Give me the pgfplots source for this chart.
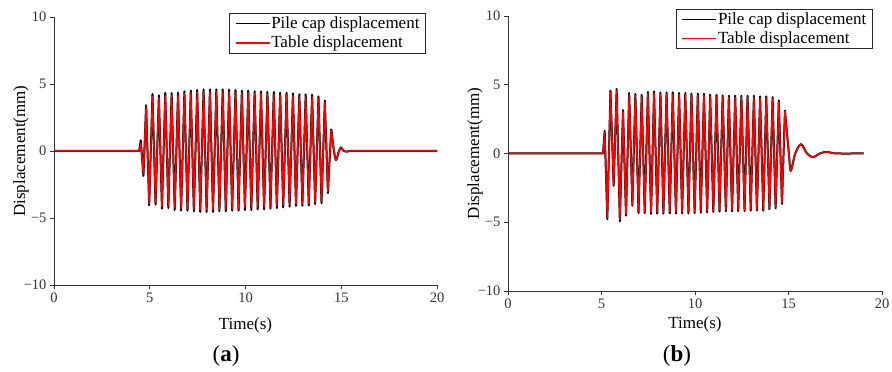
\documentclass[border=0pt]{standalone}
\usepackage{fontspec}
\setmainfont{Liberation Serif}
\usepackage{pgfplots}
\pgfplotsset{compat=1.18}
\pgfplotsset{
  dispaxis/.style={
    scale only axis,
    xmin=0,xmax=20,ymin=-10,ymax=10,
    xtick={0,5,10,15,20},
    ytick={-10,-5,0,5,10},
    yticklabels={−10,−5,0,5,10},
    axis lines=left,
    axis line style={-, black!80, line width=0.8pt},
    tick align=outside,
    major tick length=4pt,
    tick style={black!80, line width=0.8pt},
    ticklabel style={font=\fontsize{14.5}{16}\selectfont, text=black!80},
    /pgf/number format/assume math mode=true,
    xlabel={Time(s)},
    ylabel={Displacement(mm)},
    label style={font=\fontsize{17}{19}\selectfont},
    legend cell align=left,
    legend style={draw=black!85, line width=0.8pt, font=\fontsize{17}{19}\selectfont,
      inner xsep=5pt, inner ysep=2.5pt, row sep=4pt,
      nodes={inner sep=1pt}},
    legend image code/.code={\draw[##1] (0pt,0pt) -- (34pt,0pt);},
  },
  blk/.style={draw=black, line width=2.0pt, line join=round},
  rd/.style={draw=red, line width=1.5pt, line join=round},
}
\begin{document}
\begin{tikzpicture}
\useasboundingbox (0pt,0pt) rectangle (892pt,372pt);
% ---------------- panel (a)
\begin{axis}[dispaxis, at={(54pt,87pt)}, anchor=south west, width=383pt, height=268pt,
  xlabel style={at={(axis description cs:0.5,-0.149)}, anchor=center},
  ylabel style={at={(axis description cs:-0.086,0.5)}, anchor=center},
  legend style={at={(0.971,1.015)}, anchor=north east}]
\addlegendimage{draw=black, line width=1.4pt}
\addlegendentry{Pile cap displacement}
\addlegendimage{draw=red, line width=1.4pt}
\addlegendentry{Table displacement}
\addplot[blk, forget plot] table {
0 0
2 0
4 0
4.3 0
4.45 0
4.53 0.80
4.67 -1.86
4.81 3.42
4.97 -4.05
5.143 4.25
5.303 -4.00
5.477 4.16
5.637 -4.30
5.81 4.33
5.97 -4.25
6.143 4.33
6.303 -4.40
6.477 4.35
6.637 -4.45
6.81 4.45
6.97 -4.45
7.143 4.50
7.303 -4.50
7.477 4.55
7.637 -4.55
7.81 4.60
7.97 -4.55
8.143 4.60
8.303 -4.55
8.477 4.60
8.637 -4.50
8.81 4.60
8.97 -4.50
9.143 4.58
9.303 -4.45
9.477 4.55
9.637 -4.45
9.81 4.50
9.97 -4.40
10.143 4.50
10.303 -4.40
10.477 4.45
10.637 -4.35
10.81 4.45
10.97 -4.35
11.143 4.40
11.303 -4.30
11.477 4.40
11.637 -4.25
11.81 4.35
11.97 -4.20
12.143 4.35
12.303 -4.15
12.477 4.30
12.637 -4.10
12.81 4.23
12.97 -4.08
13.143 4.23
13.303 -4.06
13.477 4.20
13.637 -3.96
13.81 4.08
13.97 -3.90
14.143 3.76
14.303 -3.14
14.477 1.65
};
\addplot[blk, smooth, forget plot] table {
14.477 1.65
14.62 0
14.73 -0.67
14.88 0
14.99 0.27
15.12 0
15.27 -0.05
15.45 0
15.8 0
16.3 0
17 0
18 0
19 0
20 0
};
\addplot[rd, forget plot] table {
0 0
2 0
4 0
4.3 0
4.45 0
4.53 0.55
4.67 -1.70
4.81 3.30
4.97 -3.90
5.143 4.08
5.303 -3.85
5.477 4.00
5.637 -4.13
5.81 4.16
5.97 -4.08
6.143 4.16
6.303 -4.23
6.477 4.18
6.637 -4.28
6.81 4.28
6.97 -4.28
7.143 4.33
7.303 -4.33
7.477 4.38
7.637 -4.38
7.81 4.43
7.97 -4.38
8.143 4.43
8.303 -4.38
8.477 4.43
8.637 -4.33
8.81 4.43
8.97 -4.33
9.143 4.41
9.303 -4.28
9.477 4.38
9.637 -4.28
9.81 4.33
9.97 -4.23
10.143 4.33
10.303 -4.23
10.477 4.28
10.637 -4.18
10.81 4.28
10.97 -4.18
11.143 4.23
11.303 -4.13
11.477 4.23
11.637 -4.08
11.81 4.18
11.97 -4.04
12.143 4.18
12.303 -3.99
12.477 4.13
12.637 -3.94
12.81 4.07
12.97 -3.92
13.143 4.07
13.303 -3.90
13.477 4.04
13.637 -3.80
13.81 3.93
13.97 -3.75
14.143 3.62
14.303 -3.02
14.477 1.60
};
\addplot[rd, smooth, forget plot] table {
14.477 1.60
14.62 0
14.73 -0.65
14.88 0
14.99 0.26
15.12 0
15.27 -0.05
15.45 0
15.8 0
16.3 0
17 0
18 0
19 0
20 0
};
\end{axis}
% ---------------- panel (b)
\begin{axis}[dispaxis, at={(508pt,81pt)}, anchor=south west, width=374pt, height=275pt,
  xlabel style={at={(axis description cs:0.5,-0.12)}, anchor=center},
  ylabel style={at={(axis description cs:-0.088,0.5)}, anchor=center},
  legend style={at={(0.975,1.026)}, anchor=north east}]
\addlegendimage{draw=black, line width=1.4pt}
\addlegendentry{Pile cap displacement}
\addlegendimage{draw=red, line width=1.4pt}
\addlegendentry{Table displacement}
\addplot[blk, forget plot] table {
0 0
2 0
4 0
4.8 0
4.98 0
5.08 0
5.17 1.65
5.31 -4.78
5.48 4.57
5.65 -2.35
5.81 4.69
5.98 -4.93
6.15 3.15
6.31 -4.51
6.48 4.40
6.65 -3.79
6.81 4.33
6.98 -4.34
7.15 4.27
7.31 -4.34
7.48 4.47
7.65 -4.39
7.81 4.52
7.98 -4.38
8.15 4.44
8.31 -4.38
8.48 4.44
8.65 -4.36
8.81 4.44
8.98 -4.36
9.15 4.40
9.31 -4.35
9.48 4.40
9.65 -4.35
9.81 4.35
9.98 -4.33
10.15 4.35
10.31 -4.30
10.48 4.33
10.65 -4.28
10.81 4.27
10.98 -4.25
11.15 4.27
11.31 -4.22
11.48 4.22
11.65 -4.20
11.81 4.20
11.98 -4.20
12.15 4.20
12.31 -4.18
12.48 4.20
12.65 -4.18
12.81 4.20
12.98 -4.16
13.15 4.20
13.31 -4.15
13.48 4.15
13.65 -4.15
13.81 4.15
13.98 -4.05
14.15 4.10
14.31 -3.98
14.48 3.86
14.65 -3.66
14.81 3.15
};
\addplot[blk, smooth, forget plot] table {
14.81 3.15
15.02 0
15.12 -1.26
15.36 0
15.67 0.68
15.99 0
16.31 -0.27
16.67 0
17.03 0.12
17.4 0.02
17.8 0
18.4 0
19.02 0
};
\addplot[rd, forget plot] table {
0 0
2 0
4 0
4.8 0
4.98 0
5.08 0
5.17 1.55
5.31 -4.66
5.48 4.47
5.65 -2.28
5.81 4.58
5.98 -4.80
6.15 3.05
6.31 -4.40
6.48 4.28
6.65 -3.70
6.81 4.22
6.98 -4.24
7.15 4.16
7.31 -4.24
7.48 4.35
7.65 -4.28
7.81 4.40
7.98 -4.27
8.15 4.33
8.31 -4.27
8.48 4.33
8.65 -4.25
8.81 4.33
8.98 -4.25
9.15 4.29
9.31 -4.24
9.48 4.29
9.65 -4.24
9.81 4.24
9.98 -4.22
10.15 4.24
10.31 -4.20
10.48 4.22
10.65 -4.18
10.81 4.16
10.98 -4.15
11.15 4.16
11.31 -4.12
11.48 4.11
11.65 -4.10
11.81 4.09
11.98 -4.10
12.15 4.09
12.31 -4.08
12.48 4.09
12.65 -4.08
12.81 4.09
12.98 -4.06
13.15 4.09
13.31 -4.05
13.48 4.04
13.65 -4.05
13.81 4.04
13.98 -3.96
14.15 3.99
14.31 -3.89
14.48 3.76
14.65 -3.58
14.81 3.08
};
\addplot[rd, smooth, forget plot] table {
14.81 3.08
15.02 0
15.12 -1.24
15.36 0
15.67 0.67
15.99 0
16.31 -0.26
16.67 0
17.03 0.12
17.4 0.02
17.8 0
18.4 0
19.02 0
};
\end{axis}
\node[font=\fontsize{23}{26}\selectfont] at (226pt,16pt) {(\textbf{a})};
\node[font=\fontsize{23}{26}\selectfont] at (677pt,16pt) {(\textbf{b})};
\end{tikzpicture}
\end{document}
